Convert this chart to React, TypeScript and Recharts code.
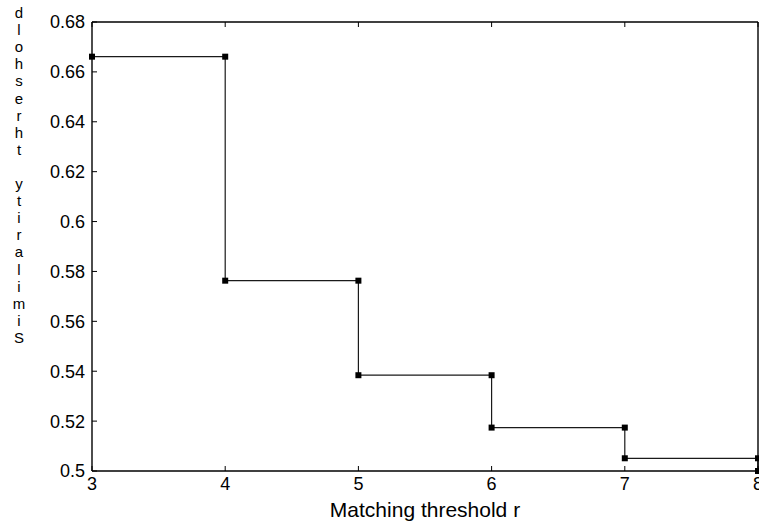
import { LineChart, Line, XAxis, YAxis } from 'recharts'

// step levels: value held from each threshold to the next
const thresholds = [3, 4, 5, 6, 7, 8]
const similarity = [0.6661, 0.5763, 0.5384, 0.5174, 0.5051, 0.5]
const xTicks = [3, 4, 5, 6, 7, 8]
const yTicks = [0.5, 0.52, 0.54, 0.56, 0.58, 0.6, 0.62, 0.64, 0.66, 0.68]
const xLabel = 'Matching threshold r'
const yLabel = 'Similarity threshold'

const FONT = '"Liberation Sans", Arial, sans-serif'
const TICK = 5

// build the staircase: each level runs to the next threshold, then drops
const stepData: { r: number, s: number }[] = []
thresholds.forEach((t, i) => {
  stepData.push({ r: t, s: similarity[i] })
  if (i < thresholds.length - 1) stepData.push({ r: thresholds[i + 1], s: similarity[i] })
})

const LeftTick = (props: any) => {
  const { x, y, payload } = props
  return (
    <g>
      <line x1={x} x2={x + TICK} y1={y} y2={y} stroke="#000" />
      <text x={x - 7} y={y} dy="0.36em" textAnchor="end" fontSize={18} fontFamily={FONT} fill="#000">
        {String(payload.value)}
      </text>
    </g>
  )
}

const RightTick = (props: any) => {
  const { x, y } = props
  return <line x1={x - TICK} x2={x} y1={y} y2={y} stroke="#000" />
}

const BottomTick = (props: any) => {
  const { x, y, payload } = props
  return (
    <g>
      <line x1={x} x2={x} y1={y} y2={y - TICK} stroke="#000" />
      <text x={x} y={y + 19} textAnchor="middle" fontSize={18} fontFamily={FONT} fill="#000">
        {String(payload.value)}
      </text>
    </g>
  )
}

const TopTick = (props: any) => {
  const { x, y } = props
  return <line x1={x} x2={x} y1={y} y2={y + TICK} stroke="#000" />
}

const SquareDot = (props: any) => {
  const { cx, cy } = props
  if (cx == null || cy == null) return null
  return <rect x={cx - 3} y={cy - 3} width={6} height={6} fill="#000" />
}

const StackedLabel = () => {
  const chars = yLabel.split('').reverse()
  return (
    <g>
      {chars.map((c, i) => (
        <text key={i} x={19} y={18 + i * 17.1} textAnchor="middle" fontSize={15} fontFamily={FONT} fill="#000">
          {c}
        </text>
      ))}
    </g>
  )
}

const XLabel = (props: any) => {
  const { viewBox } = props
  return (
    <text x={viewBox.x + viewBox.width / 2} y={517} textAnchor="middle" fontSize={21} fontFamily={FONT} fill="#000">
      {xLabel}
    </text>
  )
}

const App = () => {
  const axisLine = { stroke: '#000', strokeWidth: 1.4 }
  return (
    <div style={{ position: 'absolute', left: 0, top: 0, background: '#fff' }}>
      <LineChart width={759} height={527} data={stepData}
        margin={{ top: 0, right: 0, left: 0, bottom: 0 }}>
        <XAxis dataKey="r" type="number" domain={[3, 8]} ticks={xTicks} height={56}
          axisLine={axisLine} tickLine={false} tickSize={0} tickMargin={0}
          tick={<BottomTick />} interval={0} label={<XLabel />} />
        <XAxis xAxisId="top" orientation="top" dataKey="r" type="number" domain={[3, 8]} ticks={xTicks} height={22}
          axisLine={axisLine} tickLine={false} tickSize={0} tickMargin={0}
          tick={<TopTick />} interval={0} />
        <YAxis type="number" domain={[0.5, 0.68]} ticks={yTicks} width={92}
          axisLine={axisLine} tickLine={false} tickSize={0} tickMargin={0}
          tick={<LeftTick />} interval={0} label={<StackedLabel />} />
        <YAxis yAxisId="right" orientation="right" type="number" domain={[0.5, 0.68]} ticks={yTicks} width={1}
          axisLine={axisLine} tickLine={false} tickSize={0} tickMargin={0}
          tick={<RightTick />} interval={0} />
        <Line type="linear" dataKey="s" stroke="#1a1a1a" strokeWidth={1.2}
          dot={<SquareDot />} activeDot={false} isAnimationActive={false} />
      </LineChart>
    </div>
  )
}

export default App
